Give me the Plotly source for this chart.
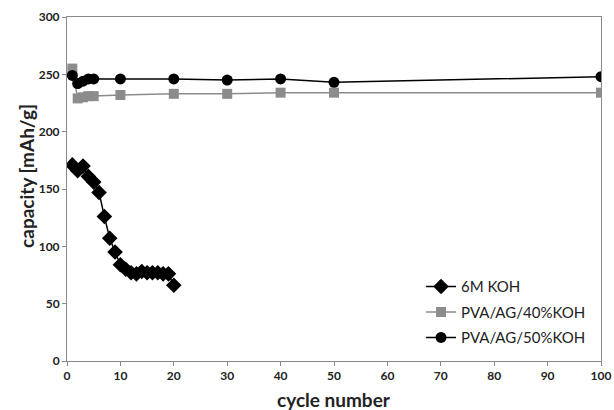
import plotly.graph_objects as go

x_koh = list(range(1, 21))
y_koh = [171, 166, 170, 161, 156, 147, 126, 107, 95, 84, 80, 77, 76, 78, 77, 77, 77, 76, 76, 66]

x_pva = [1, 2, 3, 4, 5, 10, 20, 30, 40, 50, 100]
y_pva40 = [255, 229, 230, 231, 231, 232, 233, 233, 234, 234, 234]
y_pva50 = [249, 242, 244, 246, 246, 246, 246, 245, 246, 243, 248]

x_ticks = list(range(0, 101, 10))
y_ticks = list(range(0, 301, 50))

fig = go.Figure()
fig.add_trace(go.Scatter(x=x_koh, y=y_koh, name="6M KOH", mode="lines+markers",
                         legendgroup="a",
                         line=dict(color="black", width=1.5),
                         marker=dict(symbol="diamond", size=12, color="black")))
fig.add_trace(go.Scatter(x=x_pva, y=y_pva40, name="PVA/AG/40%KOH", mode="lines+markers",
                         legendgroup="b",
                         line=dict(color="#8c8c8c", width=1.5),
                         marker=dict(symbol="square", size=10, color="#8c8c8c")))
fig.add_trace(go.Scatter(x=x_pva, y=y_pva50, name="PVA/AG/50%KOH", mode="lines+markers",
                         legendgroup="c",
                         line=dict(color="black", width=1.5),
                         marker=dict(symbol="circle", size=11, color="black")))

axis_common = dict(showgrid=False, zeroline=False, showline=True, linecolor="#8a8a8a",
                   linewidth=1, mirror=True, ticks="outside", ticklen=4, tickcolor="#8a8a8a",
                   automargin=False,
                   tickfont=dict(family="Lato", size=12, color="#222", weight="bold"))

fig.update_layout(
    width=614, height=410,
    paper_bgcolor="white", plot_bgcolor="white",
    margin=dict(l=67, r=13, t=17, b=49),
    font=dict(family="Lato", color="#222"),
    xaxis=dict(range=[0, 100], tickvals=x_ticks, **axis_common),
    yaxis=dict(range=[0, 300], tickvals=y_ticks, **axis_common),
    legend=dict(x=0.663, y=0.264, xanchor="left", yanchor="top",
                font=dict(family="Lato", size=15, color="#222"),
                bgcolor="rgba(0,0,0,0)", tracegroupgap=3),
    showlegend=True,
    annotations=[
        dict(text="cycle number", xref="paper", yref="paper", x=0.5, y=-0.113,
             xanchor="center", yanchor="middle", showarrow=False,
             font=dict(family="Lato", size=19, color="#222", weight="bold")),
        dict(text="capacity [mAh/g]", xref="paper", yref="paper", x=-0.075, y=0.538,
             xanchor="center", yanchor="middle", showarrow=False, textangle=-90,
             font=dict(family="Lato", size=19, color="#222", weight="bold")),
    ],
)

fig.write_html("out.html", config={"displayModeBar": False},
               post_script="document.body.style.margin='0';document.body.style.overflow='hidden';")
